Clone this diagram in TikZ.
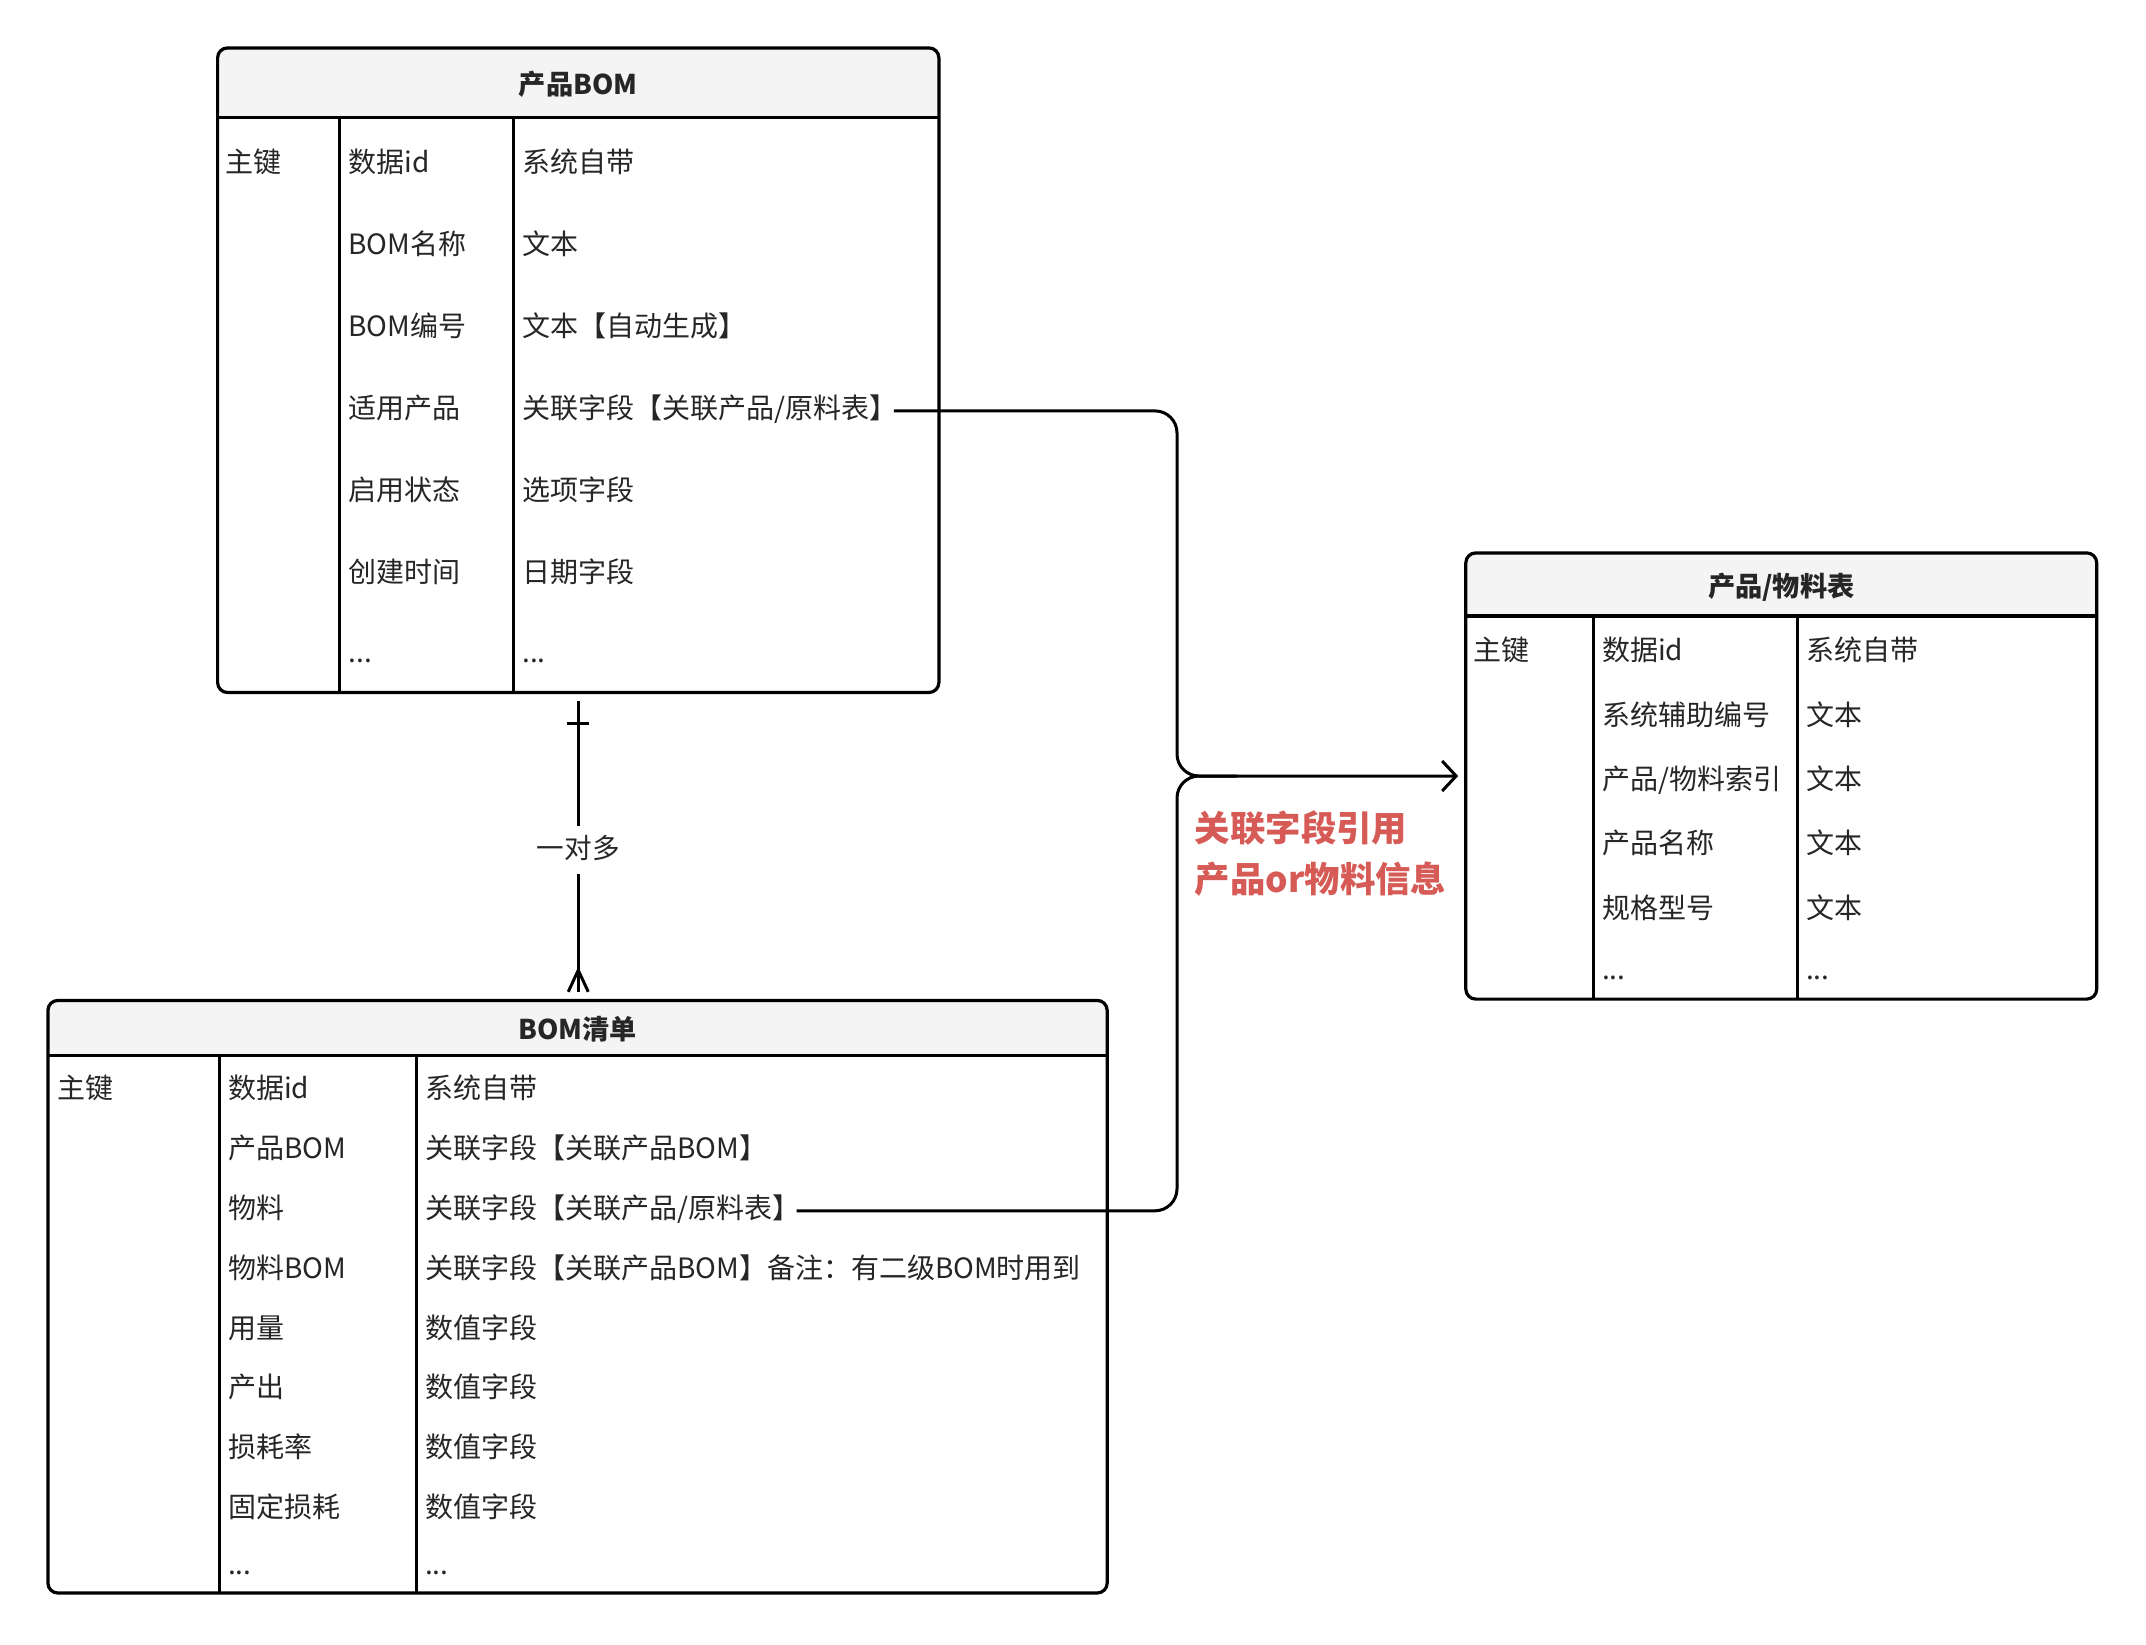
\documentclass[tikz,border=0pt]{standalone}
\usepackage{fontspec}
\setmainfont{Noto Sans CJK SC}
\usetikzlibrary{arrows.meta,fit}
\definecolor{hdr}{HTML}{F4F4F4}
\definecolor{txt}{HTML}{262626}
\definecolor{note}{HTML}{D65A55}
\begin{document}
\begin{tikzpicture}[x=0.5pt,y=-0.5pt, line width=1.5pt,
  tbl/.style={draw, rounded corners=5pt, inner sep=0pt, line width=1.6pt},
  cell/.style={anchor=west, inner sep=0pt, xshift=-1pt, yshift=-2.25pt, text height=0.88em, text depth=0.12em, font=\fontsize{14}{16}\selectfont, text=txt},
  hd/.style={inner sep=0pt, yshift=-2pt, text height=0.88em, text depth=0.12em, font=\fontsize{13.6}{16}\selectfont\bfseries, text=txt},
  rel/.style={line width=1.5pt, rounded corners=11pt},
]
\useasboundingbox[fill=white] (0,0) rectangle (2146,1644);

% ---------------- Table A: 产品BOM ----------------
\begin{scope}
  \clip[rounded corners=5pt] (217.6,47.9) rectangle (938.9,692.5);
  \fill[hdr] (217.6,47.9) rectangle (938.9,117.7);
\end{scope}
\node[tbl, fit={(217.6,47.9) (938.9,692.5)}] (A) {};
\node[hd] (Ah) at (578.25,82.8) {产品BOM};
\draw[line width=1.6pt] (217.6,117.7) -- (938.9,117.7);
\draw (339.4,117.7) -- (339.4,692.5);
\draw (513.2,117.7) -- (513.2,692.5);
\node[cell] (A1a) at (225.8,160.1) {主键};
\node[cell] (A1b) at (349,160.1) {数据id};
\node[cell] (A1c) at (522.8,160.1) {系统自带};
\node[cell] (A2b) at (349,242.2) {BOM名称};
\node[cell] (A2c) at (522.8,242.2) {文本};
\node[cell] (A3b) at (349,324.3) {BOM编号};
\node[cell] (A3c) at (522.8,324.3) {文本【自动生成】};
\node[cell] (A4b) at (349,406.4) {适用产品};
\node[cell] (A4c) at (522.8,406.4) {关联字段【关联产品/原料表】};
\node[cell] (A5b) at (349,488.5) {启用状态};
\node[cell] (A5c) at (522.8,488.5) {选项字段};
\node[cell] (A6b) at (349,570.6) {创建时间};
\node[cell] (A6c) at (522.8,570.6) {日期字段};
\node[cell] (A7b) at (349,650) {...};
\node[cell] (A7c) at (522.8,650) {...};

% ---------------- Table B: 产品/物料表 ----------------
\begin{scope}
  \clip[rounded corners=5pt] (1465.8,552.9) rectangle (2096.7,999.1);
  \fill[hdr] (1465.8,552.9) rectangle (2096.7,615.9);
\end{scope}
\node[tbl, fit={(1465.8,552.9) (2096.7,999.1)}] (B) {};
\node[hd] (Bh) at (1781.25,584.4) {产品/物料表};
\draw[line width=1.6pt] (1465.8,615.9) -- (2096.7,615.9);
\draw (1593,615.9) -- (1593,999.1);
\draw (1797,615.9) -- (1797,999.1);
\node[cell] (B1a) at (1474,648.7) {主键};
\node[cell] (B1b) at (1602.6,648.7) {数据id};
\node[cell] (B1c) at (1806.5,648.7) {系统自带};
\node[cell] (B2b) at (1602.6,713) {系统辅助编号};
\node[cell] (B2c) at (1806.5,713) {文本};
\node[cell] (B3b) at (1602.6,777.3) {产品/物料索引};
\node[cell] (B3c) at (1806.5,777.3) {文本};
\node[cell] (B4b) at (1602.6,841.6) {产品名称};
\node[cell] (B4c) at (1806.5,841.6) {文本};
\node[cell] (B5b) at (1602.6,905.9) {规格型号};
\node[cell] (B5c) at (1806.5,905.9) {文本};
\node[cell] (B6b) at (1602.6,967) {...};
\node[cell] (B6c) at (1806.5,967) {...};

% ---------------- Table C: BOM清单 ----------------
\begin{scope}
  \clip[rounded corners=5pt] (47.9,1000.4) rectangle (1107.2,1593);
  \fill[hdr] (47.9,1000.4) rectangle (1107.2,1055.2);
\end{scope}
\node[tbl, fit={(47.9,1000.4) (1107.2,1593)}] (C) {};
\node[hd] (Ch) at (577.55,1027.8) {BOM清单};
\draw[line width=1.6pt] (47.9,1055.2) -- (1107.2,1055.2);
\draw (219,1055.2) -- (219,1593);
\draw (416,1055.2) -- (416,1593);
\node[cell] (C1a) at (57.5,1086.7) {主键};
\node[cell] (C1b) at (228.6,1086.7) {数据id};
\node[cell] (C1c) at (425.6,1086.7) {系统自带};
\node[cell] (C2b) at (228.6,1146.5) {产品BOM};
\node[cell] (C2c) at (425.6,1146.5) {关联字段【关联产品BOM】};
\node[cell] (C3b) at (228.6,1206.3) {物料};
\node[cell] (C3c) at (425.6,1206.3) {关联字段【关联产品/原料表】};
\node[cell] (C4b) at (228.6,1266.1) {物料BOM};
\node[cell] (C4c) at (425.6,1266.1) {关联字段【关联产品BOM】备注：有二级BOM时用到};
\node[cell] (C5b) at (228.6,1325.9) {用量};
\node[cell] (C5c) at (425.6,1325.9) {数值字段};
\node[cell] (C6b) at (228.6,1385.7) {产出};
\node[cell] (C6c) at (425.6,1385.7) {数值字段};
\node[cell] (C7b) at (228.6,1445.5) {损耗率};
\node[cell] (C7c) at (425.6,1445.5) {数值字段};
\node[cell] (C8b) at (228.6,1505.3) {固定损耗};
\node[cell] (C8c) at (425.6,1505.3) {数值字段};
\node[cell] (C9b) at (228.6,1562) {...};
\node[cell] (C9c) at (425.6,1562) {...};

% ---------------- one-to-many connector ----------------
\coordinate (o1) at ([yshift=-3.5pt]A.south);
\coordinate (m1) at ([yshift=3.5pt]C.north);
\draw (o1) -- node[fill=white, yshift=-2pt, inner xsep=4pt, inner ysep=7pt, text height=0.88em, text depth=0.12em, font=\fontsize{13.8}{16}\selectfont, text=txt] (lab1) {一对多} (o1 |- m1);
\draw ([xshift=-5.5pt,yshift=-14.6pt]A.south) -- ([xshift=5.5pt,yshift=-14.6pt]A.south);
\draw[line join=round] ([xshift=-5pt]o1 |- m1) -- ([yshift=10.8pt]o1 |- m1) -- ([xshift=5pt]o1 |- m1);

% ---------------- reference connector ----------------
\coordinate (bend) at (1177,776);
\draw[rel, -{Straight Barb[length=7pt,width=15pt,line width=1.5pt]}, shorten >=3pt]
  ([xshift=-2.5pt]A4c.east) -| (bend) -- (B.west |- bend);
\draw[rel] ([xshift=-2.5pt]C3c.east) -| (bend) -- ++(60,0);

\node[anchor=west, inner sep=0pt, align=left, font=\fontsize{17.7}{25.3}\selectfont\bfseries, text=note] (lbl) at (1193.4,853.3) {关联字段引用\\产品or物料信息};
\end{tikzpicture}
\end{document}
